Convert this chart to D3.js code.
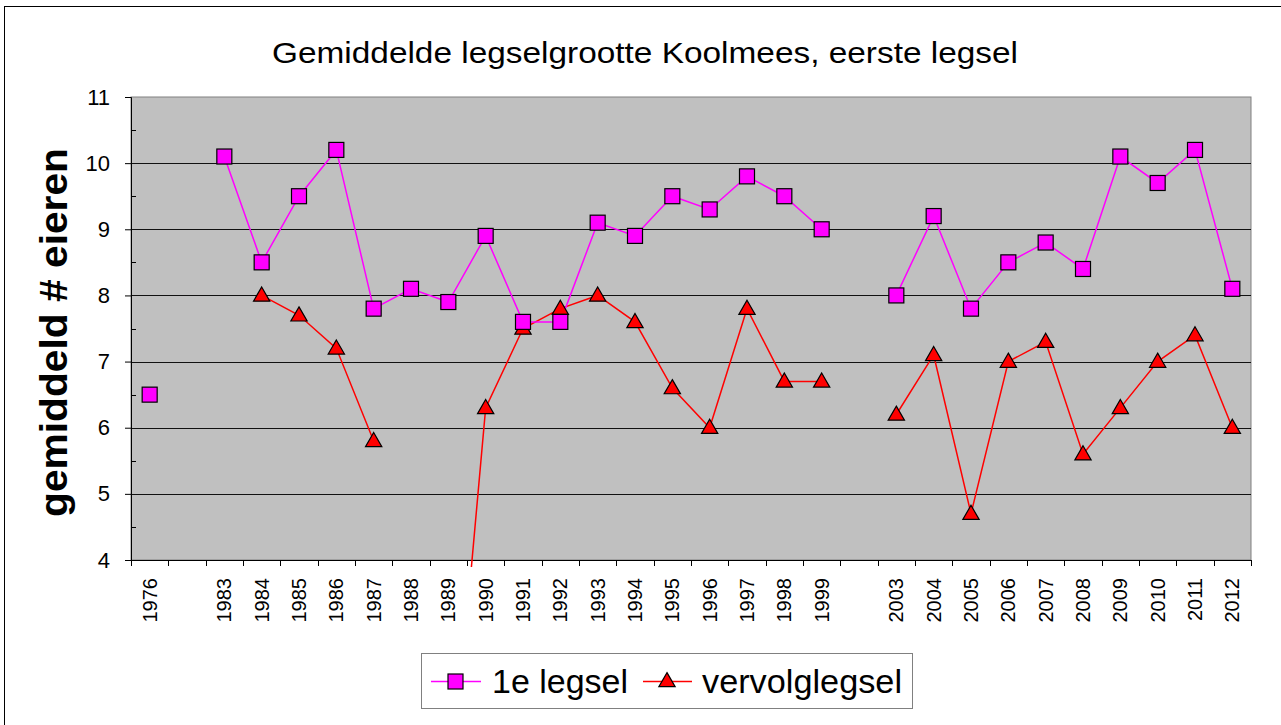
<!DOCTYPE html>
<html>
<head>
<meta charset="utf-8">
<script src="https://cdn.jsdelivr.net/npm/d3@7"></script>
<style>
  body { margin: 0; background: #fff; }
  svg { display: block; font-family: "Liberation Sans", Arial, sans-serif; }
</style>
</head>
<body>
<div id="chart"></div>
<script>
// categories (blank entries are empty gaps in the x axis)
var years = ['1976', '', '1983', '1984', '1985', '1986', '1987', '1988', '1989', '1990',
  '1991', '1992', '1993', '1994', '1995', '1996', '1997', '1998', '1999', '',
  '2003', '2004', '2005', '2006', '2007', '2008', '2009', '2010', '2011', '2012'];

var eersteLegsel = [6.5, null, 10.1, 8.5, 9.5, 10.2, 7.8, 8.1, 7.9, 8.9,
  7.6, 7.6, 9.1, 8.9, 9.5, 9.3, 9.8, 9.5, 9.0, null,
  8.0, 9.2, 7.8, 8.5, 8.8, 8.4, 10.1, 9.7, 10.2, 8.1];

var vervolgLegsel = [null, null, null, 8.0, 7.7, 7.2, 5.8, null, 0, 6.3,
  7.5, 7.8, 8.0, 7.6, 6.6, 6.0, 7.8, 6.7, 6.7, null,
  6.2, 7.1, 4.7, 7.0, 7.3, 5.6, 6.3, 7.0, 7.4, 6.0];

var yTicks = [4, 5, 6, 7, 8, 9, 10, 11];

var W = 1281, H = 725;
var plot = {left: 131, top: 97, right: 1251, bottom: 560};

var svg = d3.select('#chart').append('svg')
  .attr('width', W).attr('height', H);

// outer frame
svg.append('rect')
  .attr('x', 4.5).attr('y', 6.5)
  .attr('width', W + 10).attr('height', H + 10)
  .attr('fill', '#fff').attr('stroke', '#000').attr('stroke-width', 1);

var x = d3.scaleBand()
  .domain(d3.range(years.length))
  .range([plot.left, plot.right]);

var y = d3.scaleLinear()
  .domain([4, 11])
  .range([plot.bottom, plot.top]);

// plot background
svg.append('rect')
  .attr('x', plot.left).attr('y', plot.top)
  .attr('width', plot.right - plot.left).attr('height', plot.bottom - plot.top)
  .attr('fill', '#c0c0c0').attr('stroke', '#808080').attr('stroke-width', 1);

// gridlines
svg.append('g').selectAll('line')
  .data(yTicks.slice(1, -1))
  .enter().append('line')
  .attr('x1', plot.left).attr('x2', plot.right)
  .attr('y1', function(d) { return Math.round(y(d)) + 0.5; })
  .attr('y2', function(d) { return Math.round(y(d)) + 0.5; })
  .attr('stroke', '#111').attr('stroke-width', 1);

// y axis
var yAxis = svg.append('g')
  .attr('transform', 'translate(' + plot.left + ',0)')
  .call(d3.axisLeft(y).tickValues(yTicks).tickFormat(d3.format('d')).tickSize(6).tickPadding(15));
yAxis.attr('font-family', null).attr('font-size', 22);
yAxis.select('.domain').attr('stroke', '#000');
yAxis.selectAll('.tick text').attr('fill', '#000');

// minor y ticks (inside)
svg.append('g').selectAll('line')
  .data(d3.range(4.5, 11, 1))
  .enter().append('line')
  .attr('x1', plot.left).attr('x2', plot.left + 5)
  .attr('y1', function(d) { return Math.round(y(d)) + 0.5; })
  .attr('y2', function(d) { return Math.round(y(d)) + 0.5; })
  .attr('stroke', '#000');

// x axis: ticks at category boundaries, labels at centres
var xg = svg.append('g').attr('transform', 'translate(0,' + plot.bottom + ')');
xg.append('line')
  .attr('x1', plot.left).attr('x2', plot.right)
  .attr('y1', 0.5).attr('y2', 0.5).attr('stroke', '#000');
xg.selectAll('line.tk')
  .data(d3.range(years.length + 1))
  .enter().append('line')
  .attr('class', 'tk')
  .attr('x1', function(i) { return Math.round(plot.left + i * x.step()) + 0.5; })
  .attr('x2', function(i) { return Math.round(plot.left + i * x.step()) + 0.5; })
  .attr('y1', 0).attr('y2', 6)
  .attr('stroke', '#000');
xg.selectAll('text')
  .data(d3.range(years.length))
  .enter().append('text')
  .attr('transform', function(i) {
    return 'translate(' + (x(i) + x.bandwidth() / 2 + 7) + ',18) rotate(-90)';
  })
  .attr('text-anchor', 'end')
  .attr('font-size', 20)
  .text(function(i) { return years[i]; });

// clip for lines
svg.append('clipPath').attr('id', 'plotclip')
  .append('rect')
  .attr('x', plot.left).attr('y', plot.top - 20)
  .attr('width', plot.right - plot.left).attr('height', plot.bottom - plot.top + 27);

function cx(i) { return x(i) + x.bandwidth() / 2; }

var line = d3.line()
  .defined(function(d) { return d != null; })
  .x(function(d, i) { return cx(i); })
  .y(function(d) { return y(d); });

svg.append('path')
  .datum(vervolgLegsel)
  .attr('clip-path', 'url(#plotclip)')
  .attr('d', line)
  .attr('fill', 'none').attr('stroke', '#ff0000').attr('stroke-width', 1.5);

svg.append('path')
  .datum(eersteLegsel)
  .attr('d', line)
  .attr('fill', 'none').attr('stroke', '#ff00ff').attr('stroke-width', 1.5);

var tri = d3.symbol().type(d3.symbolTriangle).size(115);

svg.append('g').selectAll('path')
  .data(vervolgLegsel.map(function(v, i) { return {v: v, i: i}; })
    .filter(function(d) { return d.v != null && d.v >= 4; }))
  .enter().append('path')
  .attr('d', tri)
  .attr('transform', function(d) { return 'translate(' + cx(d.i) + ',' + (y(d.v) + 1) + ')'; })
  .attr('fill', '#ff0000').attr('stroke', '#000').attr('stroke-width', 1.2);

svg.append('g').selectAll('rect')
  .data(eersteLegsel.map(function(v, i) { return {v: v, i: i}; })
    .filter(function(d) { return d.v != null; }))
  .enter().append('rect')
  .attr('x', function(d) { return cx(d.i) - 7.5; })
  .attr('y', function(d) { return y(d.v) - 7.5; })
  .attr('width', 15).attr('height', 15)
  .attr('fill', '#ff00ff').attr('stroke', '#000').attr('stroke-width', 1.2);

// title
svg.append('text')
  .attr('x', 272).attr('y', 63)
  .attr('font-size', 30)
  .attr('textLength', 746).attr('lengthAdjust', 'spacingAndGlyphs')
  .text('Gemiddelde legselgrootte Koolmees, eerste legsel');

// y axis title
svg.append('text')
  .attr('transform', 'translate(67,517) rotate(-90)')
  .attr('font-size', 38).attr('font-weight', 'bold')
  .attr('textLength', 369).attr('lengthAdjust', 'spacingAndGlyphs')
  .text('gemiddeld # eieren');

// legend
var lg = svg.append('g');
lg.append('rect')
  .attr('x', 421.5).attr('y', 653.5).attr('width', 491).attr('height', 55)
  .attr('fill', '#fff').attr('stroke', '#808080');
lg.append('line').attr('x1', 431).attr('x2', 481).attr('y1', 681.5).attr('y2', 681.5)
  .attr('stroke', '#ff00ff').attr('stroke-width', 1.5);
lg.append('rect').attr('x', 448).attr('y', 674).attr('width', 15).attr('height', 15)
  .attr('fill', '#ff00ff').attr('stroke', '#000').attr('stroke-width', 1.2);
lg.append('text').attr('x', 492).attr('y', 693).attr('font-size', 33)
  .attr('textLength', 136).attr('lengthAdjust', 'spacingAndGlyphs').text('1e legsel');
lg.append('line').attr('x1', 643).attr('x2', 692).attr('y1', 681.5).attr('y2', 681.5)
  .attr('stroke', '#ff0000').attr('stroke-width', 1.5);
lg.append('path').attr('d', tri).attr('transform', 'translate(667,682)')
  .attr('fill', '#ff0000').attr('stroke', '#000').attr('stroke-width', 1.2);
lg.append('text').attr('x', 702).attr('y', 693).attr('font-size', 33)
  .attr('textLength', 200).attr('lengthAdjust', 'spacingAndGlyphs').text('vervolglegsel');
</script>
</body>
</html>
